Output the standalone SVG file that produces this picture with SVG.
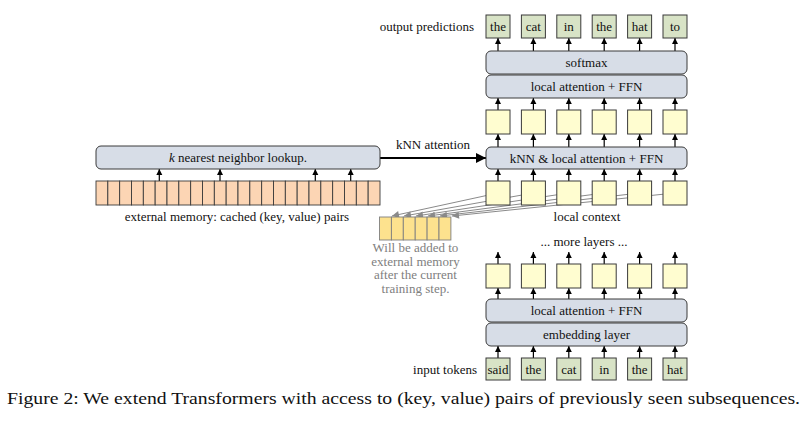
<svg xmlns="http://www.w3.org/2000/svg" width="806" height="422" viewBox="0 0 806 422">
<style>
text{font-family:"Liberation Serif","Times New Roman",serif;font-size:13px;fill:#111}
.c{text-anchor:middle}
.r{text-anchor:end}
.wide{fill:#d7dde7;stroke:#3a3a3a;stroke-width:1}
.yel{fill:#fffdd0;stroke:#3a3a3a;stroke-width:1}
.tok{fill:#d8e3c6;stroke:#3a3a3a;stroke-width:1}
.mem{fill:#fcd5b4;stroke:#3a3a3a;stroke-width:0.9}
.gold{fill:#fde28e;stroke:#7f7f7f;stroke-width:0.9}
.up{stroke:#000;stroke-width:1.2;fill:none;marker-end:url(#ah)}
.gray{stroke:#8a8a8a;stroke-width:1;fill:none;marker-end:url(#gh)}
.gt{fill:#808080}
</style>
<defs>
<marker id="ah" viewBox="0 0 10 10" refX="10" refY="5" markerWidth="6" markerHeight="8" markerUnits="userSpaceOnUse" orient="auto"><path d="M0,0 L10,5 L0,10 z" fill="#000"/></marker>
<marker id="gh" viewBox="0 0 10 10" refX="10" refY="5" markerWidth="8" markerHeight="7" markerUnits="userSpaceOnUse" orient="auto"><path d="M0,0 L10,5 L0,10 z" fill="#8a8a8a"/></marker>
<marker id="bh" viewBox="0 0 10 10" refX="10" refY="5" markerWidth="10" markerHeight="11" markerUnits="userSpaceOnUse" orient="auto"><path d="M0,0 L10,5 L0,10 z" fill="#000"/></marker>
</defs>

<g id="connectors">
<!-- gray arrows to new memory -->
<line class="gray" x1="498" y1="193" x2="392" y2="216"/>
<line class="gray" x1="533.4" y1="193" x2="404" y2="216"/>
<line class="gray" x1="568.8" y1="193" x2="416" y2="216"/>
<line class="gray" x1="604.2" y1="193" x2="428" y2="216"/>
<line class="gray" x1="639.6" y1="193" x2="440" y2="216"/>
<line class="gray" x1="675" y1="193" x2="452" y2="216"/>
<!-- kNN attention -->
<line x1="380" y1="158" x2="486" y2="158" stroke="#000" stroke-width="1.8" marker-end="url(#bh)"/>
<!-- memory lookup arrows -->
<line class="up" x1="159.3" y1="181" x2="159.3" y2="169"/>
<line class="up" x1="220" y1="181" x2="220" y2="169"/>
<line class="up" x1="315.3" y1="181" x2="315.3" y2="169"/>
<line class="up" x1="350.7" y1="181" x2="350.7" y2="169"/>
<!-- column arrows -->
<g id="col-arrows">
<line class="up" x1="498" y1="51" x2="498" y2="38"/><line class="up" x1="533.4" y1="51" x2="533.4" y2="38"/><line class="up" x1="568.8" y1="51" x2="568.8" y2="38"/><line class="up" x1="604.2" y1="51" x2="604.2" y2="38"/><line class="up" x1="639.6" y1="51" x2="639.6" y2="38"/><line class="up" x1="675" y1="51" x2="675" y2="38"/>
<line class="up" x1="498" y1="110" x2="498" y2="98"/><line class="up" x1="533.4" y1="110" x2="533.4" y2="98"/><line class="up" x1="568.8" y1="110" x2="568.8" y2="98"/><line class="up" x1="604.2" y1="110" x2="604.2" y2="98"/><line class="up" x1="639.6" y1="110" x2="639.6" y2="98"/><line class="up" x1="675" y1="110" x2="675" y2="98"/>
<line class="up" x1="498" y1="147" x2="498" y2="134"/><line class="up" x1="533.4" y1="147" x2="533.4" y2="134"/><line class="up" x1="568.8" y1="147" x2="568.8" y2="134"/><line class="up" x1="604.2" y1="147" x2="604.2" y2="134"/><line class="up" x1="639.6" y1="147" x2="639.6" y2="134"/><line class="up" x1="675" y1="147" x2="675" y2="134"/>
<line class="up" x1="498" y1="181" x2="498" y2="169"/><line class="up" x1="533.4" y1="181" x2="533.4" y2="169"/><line class="up" x1="568.8" y1="181" x2="568.8" y2="169"/><line class="up" x1="604.2" y1="181" x2="604.2" y2="169"/><line class="up" x1="639.6" y1="181" x2="639.6" y2="169"/><line class="up" x1="675" y1="181" x2="675" y2="169"/>
<line class="up" x1="498" y1="264" x2="498" y2="252"/><line class="up" x1="533.4" y1="264" x2="533.4" y2="252"/><line class="up" x1="568.8" y1="264" x2="568.8" y2="252"/><line class="up" x1="604.2" y1="264" x2="604.2" y2="252"/><line class="up" x1="639.6" y1="264" x2="639.6" y2="252"/><line class="up" x1="675" y1="264" x2="675" y2="252"/>
<line class="up" x1="498" y1="299" x2="498" y2="288"/><line class="up" x1="533.4" y1="299" x2="533.4" y2="288"/><line class="up" x1="568.8" y1="299" x2="568.8" y2="288"/><line class="up" x1="604.2" y1="299" x2="604.2" y2="288"/><line class="up" x1="639.6" y1="299" x2="639.6" y2="288"/><line class="up" x1="675" y1="299" x2="675" y2="288"/>
<line class="up" x1="498" y1="358" x2="498" y2="346"/><line class="up" x1="533.4" y1="358" x2="533.4" y2="346"/><line class="up" x1="568.8" y1="358" x2="568.8" y2="346"/><line class="up" x1="604.2" y1="358" x2="604.2" y2="346"/><line class="up" x1="639.6" y1="358" x2="639.6" y2="346"/><line class="up" x1="675" y1="358" x2="675" y2="346"/>
</g>
</g>

<g id="output-tokens">
<rect class="tok" x="486" y="15" width="24" height="23"/><text class="c" x="498" y="31">the</text>
<rect class="tok" x="521.4" y="15" width="24" height="23"/><text class="c" x="533.4" y="31">cat</text>
<rect class="tok" x="556.8" y="15" width="24" height="23"/><text class="c" x="568.8" y="31">in</text>
<rect class="tok" x="592.2" y="15" width="24" height="23"/><text class="c" x="604.2" y="31">the</text>
<rect class="tok" x="627.6" y="15" width="24" height="23"/><text class="c" x="639.6" y="31">hat</text>
<rect class="tok" x="663" y="15" width="24" height="23"/><text class="c" x="675" y="31">to</text>
</g>
<text class="r" x="474" y="31">output predictions</text>

<g id="softmax"><rect class="wide" x="486" y="51" width="201" height="23" rx="5"/><text class="c" x="586.5" y="67">softmax</text></g>
<g id="local-attn-top"><rect class="wide" x="486" y="75" width="201" height="23" rx="5"/><text class="c" x="586.5" y="91">local attention + FFN</text></g>

<g id="hidden-upper">
<rect class="yel" x="486" y="110" width="24" height="24"/><rect class="yel" x="521.4" y="110" width="24" height="24"/><rect class="yel" x="556.8" y="110" width="24" height="24"/><rect class="yel" x="592.2" y="110" width="24" height="24"/><rect class="yel" x="627.6" y="110" width="24" height="24"/><rect class="yel" x="663" y="110" width="24" height="24"/>
</g>

<g id="knn-layer"><rect class="wide" x="486" y="147" width="201" height="22" rx="5"/><text class="c" x="586.5" y="162.5">kNN &amp; local attention + FFN</text></g>
<text class="c" x="433" y="149">kNN attention</text>

<g id="local-context">
<rect class="yel" x="486" y="181" width="24" height="24"/><rect class="yel" x="521.4" y="181" width="24" height="24"/><rect class="yel" x="556.8" y="181" width="24" height="24"/><rect class="yel" x="592.2" y="181" width="24" height="24"/><rect class="yel" x="627.6" y="181" width="24" height="24"/><rect class="yel" x="663" y="181" width="24" height="24"/>
<text class="c" x="587" y="221">local context</text>
</g>

<g id="knn-lookup"><rect class="wide" x="96" y="146" width="284" height="23" rx="5"/><text class="c" x="238" y="162"><tspan font-style="italic">k</tspan> nearest neighbor lookup.</text></g>

<g id="external-memory">
<rect class="mem" x="96" y="181" width="11.83" height="24"/><rect class="mem" x="107.83" y="181" width="11.83" height="24"/><rect class="mem" x="119.67" y="181" width="11.83" height="24"/><rect class="mem" x="131.5" y="181" width="11.83" height="24"/><rect class="mem" x="143.33" y="181" width="11.83" height="24"/><rect class="mem" x="155.17" y="181" width="11.83" height="24"/><rect class="mem" x="167" y="181" width="11.83" height="24"/><rect class="mem" x="178.83" y="181" width="11.83" height="24"/><rect class="mem" x="190.67" y="181" width="11.83" height="24"/><rect class="mem" x="202.5" y="181" width="11.83" height="24"/><rect class="mem" x="214.33" y="181" width="11.83" height="24"/><rect class="mem" x="226.17" y="181" width="11.83" height="24"/><rect class="mem" x="238" y="181" width="11.83" height="24"/><rect class="mem" x="249.83" y="181" width="11.83" height="24"/><rect class="mem" x="261.67" y="181" width="11.83" height="24"/><rect class="mem" x="273.5" y="181" width="11.83" height="24"/><rect class="mem" x="285.33" y="181" width="11.83" height="24"/><rect class="mem" x="297.17" y="181" width="11.83" height="24"/><rect class="mem" x="309" y="181" width="11.83" height="24"/><rect class="mem" x="320.83" y="181" width="11.83" height="24"/><rect class="mem" x="332.67" y="181" width="11.83" height="24"/><rect class="mem" x="344.5" y="181" width="11.83" height="24"/><rect class="mem" x="356.33" y="181" width="11.83" height="24"/><rect class="mem" x="368.17" y="181" width="11.83" height="24"/>
<text class="c" x="237" y="221">external memory: cached (key, value) pairs</text>
</g>

<g id="new-memory">
<rect class="gold" x="379.5" y="217" width="11.9" height="23"/><rect class="gold" x="391.4" y="217" width="11.9" height="23"/><rect class="gold" x="403.3" y="217" width="11.9" height="23"/><rect class="gold" x="415.2" y="217" width="11.9" height="23"/><rect class="gold" x="427.1" y="217" width="11.9" height="23"/><rect class="gold" x="439" y="217" width="11.9" height="23"/>
<text class="c gt" x="415.5" y="252">Will be added to</text>
<text class="c gt" x="415.5" y="265.5">external memory</text>
<text class="c gt" x="415.5" y="279">after the current</text>
<text class="c gt" x="415.5" y="292.5">training step.</text>
</g>

<text class="c" x="584" y="246">... more layers ...</text>

<g id="hidden-lower">
<rect class="yel" x="486" y="264" width="24" height="24"/><rect class="yel" x="521.4" y="264" width="24" height="24"/><rect class="yel" x="556.8" y="264" width="24" height="24"/><rect class="yel" x="592.2" y="264" width="24" height="24"/><rect class="yel" x="627.6" y="264" width="24" height="24"/><rect class="yel" x="663" y="264" width="24" height="24"/>
</g>

<g id="local-attn-bottom"><rect class="wide" x="486" y="299" width="201" height="23" rx="5"/><text class="c" x="586.5" y="315">local attention + FFN</text></g>
<g id="embedding"><rect class="wide" x="486" y="323" width="201" height="23" rx="5"/><text class="c" x="586.5" y="339">embedding layer</text></g>

<g id="input-tokens">
<rect class="tok" x="486" y="358" width="24" height="22"/><text class="c" x="498" y="374">said</text>
<rect class="tok" x="521.4" y="358" width="24" height="22"/><text class="c" x="533.4" y="374">the</text>
<rect class="tok" x="556.8" y="358" width="24" height="22"/><text class="c" x="568.8" y="374">cat</text>
<rect class="tok" x="592.2" y="358" width="24" height="22"/><text class="c" x="604.2" y="374">in</text>
<rect class="tok" x="627.6" y="358" width="24" height="22"/><text class="c" x="639.6" y="374">the</text>
<rect class="tok" x="663" y="358" width="24" height="22"/><text class="c" x="675" y="374">hat</text>
</g>
<text class="r" x="477" y="374">input tokens</text>

<text x="7" y="404" style="font-size:17.5px" textLength="793" lengthAdjust="spacingAndGlyphs">Figure 2: We extend Transformers with access to (key, value) pairs of previously seen subsequences.</text>
</svg>
